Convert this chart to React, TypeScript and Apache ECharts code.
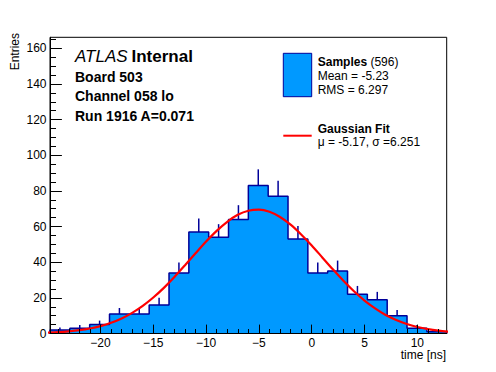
import React, { useEffect, useRef } from "react";
import * as echarts from "echarts";

// Histogram definition (bins)
const histMin = -24.78;
const binWidth = 1.878;
const counts = [2, 3, 5, 11, 11, 16, 34, 57, 54, 64, 83, 77, 53, 34, 35, 22, 19, 10, 3, 1];
const errors = [1.41, 1.73, 2.24, 3.32, 3.32, 4.0, 5.83, 7.55, 7.35, 8.0, 9.11, 8.77, 7.28, 5.83, 5.92, 4.69, 4.36, 3.16, 1.73, 1.0];

// Gaussian fit curve
const fitX = [-25, -24, -23, -22, -21, -20, -19, -18, -17, -16, -15, -14, -13, -12, -11, -10, -9, -8, -7, -6, -5, -4, -3, -2, -1, 0, 1, 2, 3, 4, 5, 6, 7, 8, 9, 10, 11, 12, 13];
const fitY = [0.45, 0.74, 1.19, 1.85, 2.81, 4.17, 6.01, 8.46, 11.6, 15.5, 20.2, 25.6, 31.7, 38.3, 45.0, 51.6, 57.6, 62.7, 66.6, 68.9, 69.5, 68.3, 65.4, 61.1, 55.6, 49.4, 42.7, 36.0, 29.6, 23.7, 18.5, 14.1, 10.4, 7.56, 5.32, 3.66, 2.45, 1.6, 1.02];

// Axes
const xRange = [-24.78, 12.78];
const yRange = [0, 166.2];
const xMajorTicks = [-20, -15, -10, -5, 0, 5, 10];
const xMinorTicks = [-24, -23, -22, -21, -20, -19, -18, -17, -16, -15, -14, -13, -12, -11, -10, -9, -8, -7, -6, -5, -4, -3, -2, -1, 0, 1, 2, 3, 4, 5, 6, 7, 8, 9, 10, 11, 12];
const yMajorTicks = [0, 20, 40, 60, 80, 100, 120, 140, 160];
const yMinorTicks = [0, 5, 10, 15, 20, 25, 30, 35, 40, 45, 50, 55, 60, 65, 70, 75, 80, 85, 90, 95, 100, 105, 110, 115, 120, 125, 130, 135, 140, 145, 150, 155, 160, 165];

const FONT = "'Liberation Sans', Arial, Helvetica, sans-serif";
const FILL = "#0099ff";
const NAVY = "#000099";

export default function App() {
  const ref = useRef<HTMLDivElement>(null);

  useEffect(() => {
    if (!ref.current) return;
    const chart = echarts.init(ref.current, undefined, { renderer: "svg" });

    const stepData: number[][] = [[histMin, 0]];
    counts.forEach((c, i) => stepData.push([histMin + i * binWidth, c]));
    stepData.push([histMin + counts.length * binWidth, 0]);

    const errData = counts.map((c, i) => [histMin + (i + 0.5) * binWidth, c, errors[i]]);
    const fitData = fitX.map((x, i) => [x, fitY[i]]);

    const fmtX = (v: number) => (v < 0 ? "\u2212" + String(-v) : String(v));

    const option: any = {
      animation: false,
      backgroundColor: "#ffffff",
      textStyle: { fontFamily: FONT },
      grid: {
        left: 50,
        right: 49.3,
        top: 37.3,
        bottom: 38.5,
        show: true,
        borderColor: "#000",
        borderWidth: 1,
        backgroundColor: "transparent",
      },
      xAxis: [
        {
          type: "value",
          min: xRange[0],
          max: xRange[1],
          position: "bottom",
          z: 10,
          axisLine: { show: true, onZero: false, lineStyle: { color: "#000", width: 1 } },
          axisTick: { show: true, inside: true, length: 8.9, customValues: xMajorTicks, lineStyle: { color: "#000", width: 1 } },
          axisLabel: {
            show: true,
            customValues: xMajorTicks,
            formatter: fmtX,
            color: "#000",
            fontSize: 12,
            fontFamily: FONT,
            margin: 3,
          },
          splitLine: { show: false },
        },
        {
          type: "value",
          min: xRange[0],
          max: xRange[1],
          position: "bottom",
          offset: 0,
          z: 10,
          axisLine: { show: false, onZero: false },
          axisTick: { show: true, inside: true, length: 4.5, customValues: xMinorTicks, lineStyle: { color: "#000", width: 1 } },
          axisLabel: { show: false },
          splitLine: { show: false },
        },
      ],
      yAxis: [
        {
          type: "value",
          min: yRange[0],
          max: yRange[1],
          position: "left",
          z: 10,
          axisLine: { show: true, onZero: false, lineStyle: { color: "#000", width: 1 } },
          axisTick: { show: true, inside: true, length: 11.9, customValues: yMajorTicks, lineStyle: { color: "#000", width: 1 } },
          axisLabel: {
            show: true,
            customValues: yMajorTicks,
            color: "#000",
            fontSize: 12,
            fontFamily: FONT,
            margin: 3.5,
          },
          splitLine: { show: false },
        },
        {
          type: "value",
          min: yRange[0],
          max: yRange[1],
          position: "left",
          offset: 0,
          z: 10,
          axisLine: { show: false, onZero: false },
          axisTick: { show: true, inside: true, length: 6, customValues: yMinorTicks, lineStyle: { color: "#000", width: 1 } },
          axisLabel: { show: false },
          splitLine: { show: false },
        },
      ],
      series: [
        {
          name: "Samples",
          type: "line",
          xAxisIndex: 0,
          yAxisIndex: 0,
          step: "end",
          data: stepData,
          showSymbol: false,
          symbol: "none",
          lineStyle: { color: NAVY, width: 1.5 },
          areaStyle: { color: FILL, opacity: 1 },
          z: 2,
        },
        {
          name: "Errors",
          type: "custom",
          xAxisIndex: 0,
          yAxisIndex: 0,
          data: errData,
          encode: { x: 0, y: 1 },
          z: 3,
          renderItem: (params: any, api: any) => {
            const x = api.value(0);
            const y = api.value(1);
            const e = api.value(2);
            const p0 = api.coord([x, y]);
            const p1 = api.coord([x, y + e]);
            return {
              type: "line",
              shape: { x1: p0[0], y1: p0[1], x2: p1[0], y2: p1[1] },
              style: { stroke: NAVY, lineWidth: 1.5 },
            };
          },
        },
        {
          name: "Gaussian Fit",
          type: "line",
          xAxisIndex: 0,
          yAxisIndex: 0,
          data: fitData,
          smooth: 0.3,
          showSymbol: false,
          symbol: "none",
          clip: true,
          lineStyle: { color: "#ff0000", width: 2.2 },
          z: 4,
        },
      ],
      graphic: [
        {
          type: "text",
          x: 75,
          y: 56.5,
          style: { text: "ATLAS", fontFamily: FONT, fontSize: 17, fontStyle: "italic", fill: "#000", textAlign: "left", textVerticalAlign: "middle" },
        },
        {
          type: "text",
          x: 131.5,
          y: 56.5,
          style: { text: "Internal", fontFamily: FONT, fontSize: 17, fontWeight: "bold", fill: "#000", textAlign: "left", textVerticalAlign: "middle" },
        },
        {
          type: "text",
          x: 75,
          y: 76.7,
          style: { text: "Board 503", fontFamily: FONT, fontSize: 14, fontWeight: "bold", fill: "#000", textAlign: "left", textVerticalAlign: "middle" },
        },
        {
          type: "text",
          x: 75,
          y: 96,
          style: { text: "Channel 058 lo", fontFamily: FONT, fontSize: 14, fontWeight: "bold", fill: "#000", textAlign: "left", textVerticalAlign: "middle" },
        },
        {
          type: "text",
          x: 75,
          y: 115.7,
          style: { text: "Run 1916 A=0.071", fontFamily: FONT, fontSize: 14, fontWeight: "bold", fill: "#000", textAlign: "left", textVerticalAlign: "middle" },
        },
        {
          type: "rect",
          shape: { x: 283.3, y: 53.3, width: 28.4, height: 43.4 },
          style: { fill: FILL, stroke: NAVY, lineWidth: 1 },
        },
        {
          type: "text",
          x: 317.7,
          y: 61.7,
          style: {
            text: "{b|Samples} (596)",
            fontFamily: FONT,
            fontSize: 12,
            fill: "#000",
            textAlign: "left",
            textVerticalAlign: "middle",
            rich: { b: { fontFamily: FONT, fontSize: 12, fontWeight: "bold", fill: "#000" } },
          },
        },
        {
          type: "text",
          x: 317.7,
          y: 76,
          style: { text: "Mean = -5.23", fontFamily: FONT, fontSize: 12, fill: "#000", textAlign: "left", textVerticalAlign: "middle" },
        },
        {
          type: "text",
          x: 317.7,
          y: 90,
          style: { text: "RMS = 6.297", fontFamily: FONT, fontSize: 12, fill: "#000", textAlign: "left", textVerticalAlign: "middle" },
        },
        {
          type: "line",
          shape: { x1: 283.3, y1: 135.7, x2: 311.7, y2: 135.7 },
          style: { stroke: "#ff0000", lineWidth: 2 },
        },
        {
          type: "text",
          x: 317.7,
          y: 129.3,
          style: { text: "Gaussian Fit", fontFamily: FONT, fontSize: 12, fontWeight: "bold", fill: "#000", textAlign: "left", textVerticalAlign: "middle" },
        },
        {
          type: "text",
          x: 317.7,
          y: 142,
          style: { text: "\u03bc = -5.17, \u03c3 =6.251", fontFamily: FONT, fontSize: 12, fill: "#000", textAlign: "left", textVerticalAlign: "middle" },
        },
        {
          type: "text",
          x: 14.5,
          y: 33,
          rotation: Math.PI / 2,
          style: { text: "Entries", fontFamily: FONT, fontSize: 12, fill: "#000", textAlign: "right", textVerticalAlign: "middle" },
        },
        {
          type: "text",
          x: 446,
          y: 355,
          style: { text: "time [ns]", fontFamily: FONT, fontSize: 12, fill: "#000", textAlign: "right", textVerticalAlign: "middle" },
        },
      ],
    };

    chart.setOption(option);
    return () => {
      chart.dispose();
    };
  }, []);

  return (
    <div
      ref={ref}
      style={{ position: "fixed", left: 0, top: 0, width: 496, height: 372, background: "#fff" }}
    />
  );
}
